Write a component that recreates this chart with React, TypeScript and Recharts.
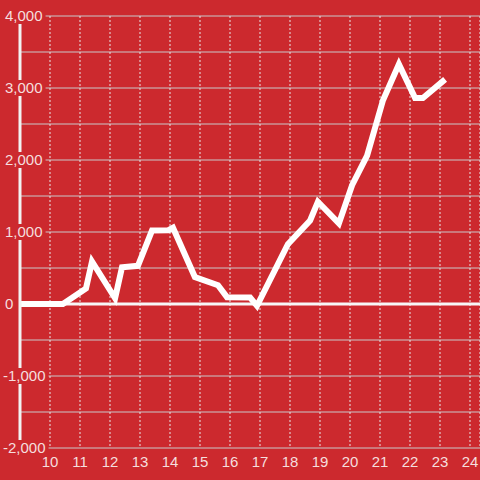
import React from "react";
import {
  LineChart,
  Line,
  XAxis,
  YAxis,
  CartesianGrid,
  ReferenceLine,
} from "recharts";

const xValues = [
  9, 10.43, 11.2, 11.4, 12.17, 12.4, 12.93, 13.4, 13.95, 14.1, 14.83, 15.6,
  15.9, 16.67, 16.9, 17.93, 18.67, 18.93, 19.63, 20.07, 20.57, 21.1, 21.63,
  22.17, 22.43, 23.17,
];
const yValues = [
  0, 0, 215, 590, 80, 510, 530, 1020, 1025, 1060, 375, 260, 95, 90, -25, 830,
  1160, 1420, 1120, 1650, 2060, 2830, 3330, 2860, 2860, 3120,
];
const xTicks = [10, 11, 12, 13, 14, 15, 16, 17, 18, 19, 20, 21, 22, 23, 24];
const yTicks = [
  -2000, -1500, -1000, -500, 0, 500, 1000, 1500, 2000, 2500, 3000, 3500, 4000,
];

const data = xValues.map((x, i) => ({ x, y: yValues[i] }));

const BG = "#cc292e";
const TEXT = "#f5dede";
const FONT = "'Liberation Sans', Arial, sans-serif";

const fmt = (v: number) => v.toLocaleString("en-US");

const YTick = (props: any) => {
  const { y, payload } = props;
  const v = payload.value as number;
  if (v % 1000 !== 0) return <g />;
  const label = fmt(v);
  let w = 0;
  for (const ch of label) {
    if (ch === ",") w += 4.2;
    else if (ch === "-") w += 5;
    else w += 8.34;
  }
  const x0 = v < 0 ? 3 : 5;
  return (
    <g>
      <rect x={0} y={y - 8} width={x0 + w + 3} height={16} fill={BG} />
      <text
        x={x0}
        y={y}
        dy="0.36em"
        textAnchor="start"
        fill={TEXT}
        fontSize={15}
        fontFamily={FONT}
      >
        {label}
      </text>
    </g>
  );
};

export default function App() {
  return (
    <div
      style={{
        position: "absolute",
        left: 0,
        top: 0,
        width: 480,
        height: 480,
        background: BG,
        overflow: "hidden",
      }}
    >
      <LineChart
        width={480}
        height={480}
        data={data}
        margin={{ top: 16, right: 0, bottom: 2, left: 19 }}
      >
        <CartesianGrid
          horizontal={true}
          vertical={false}
          stroke="#c9c9c9"
          strokeWidth={1}
        />
        <CartesianGrid
          horizontal={false}
          vertical={true}
          stroke="#e8e8e8"
          strokeDasharray="2 2"
          strokeWidth={1}
        />
        <XAxis
          dataKey="x"
          type="number"
          domain={[9, 24.3333]}
          ticks={xTicks}
          axisLine={false}
          tickLine={false}
          height={30}
          interval={0}
          tick={{ fill: TEXT, fontSize: 15, fontFamily: FONT }}
          allowDataOverflow
        />
        <YAxis
          type="number"
          domain={[-2000, 4000]}
          ticks={yTicks}
          width={1}
          interval={0}
          axisLine={{ stroke: "#f2f2f2", strokeWidth: 3 }}
          tickLine={false}
          tick={<YTick />}
        />
        <ReferenceLine y={0} stroke="#f7f7f7" strokeWidth={3} />
        <Line
          type="linear"
          dataKey="y"
          stroke="#ffffff"
          strokeWidth={6}
          dot={false}
          isAnimationActive={false}
        />
      </LineChart>
    </div>
  );
}
